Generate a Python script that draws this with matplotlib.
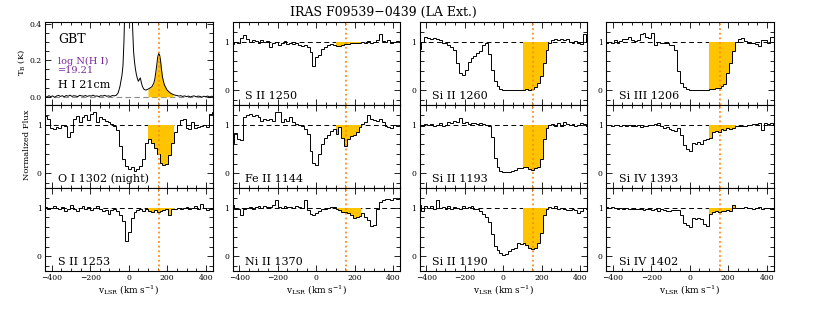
import numpy as np
import matplotlib
matplotlib.use('Agg')
import matplotlib.pyplot as plt
from matplotlib.ticker import MultipleLocator, FixedLocator

plt.rcParams['font.family'] = 'DejaVu Serif'
plt.rcParams['mathtext.fontset'] = 'dejavuserif'

# velocity bin edges of the UV spectra (km/s), 15 km/s bins
edges = np.arange(-440, 446, 15)

# GBT 21cm spectrum
gbt_v = [-435, -425, -415, -405, -395, -385, -375, -365, -355, -345,
         -335, -325, -315, -305, -295, -285, -275, -265, -255, -245,
         -235, -225, -215, -205, -195, -185, -175, -165, -155, -145,
         -135, -125, -115, -105, -95, -85, -75, -65,
         -55, -50, -45, -40, -35, -30, -25, -20, -15, -10, -5, 0, 5, 10,
         15, 20, 25, 30, 35, 40, 45, 50, 55, 60, 65, 70, 75, 80,
         90, 100, 110, 120, 130, 135, 140, 145, 150, 155, 160, 165, 170,
         175, 180, 185, 190,
         200, 210, 220, 230, 240, 250, 260, 270, 280, 290, 300, 310, 320,
         330, 340, 350, 360, 370, 380, 390, 400, 410, 420, 430, 435]
gbt_t = [0.004, -0.002, 0.006, 0.001, 0.005, -0.003, 0.004, 0.008, 0.002, 0.006,
         0.000, 0.007, 0.003, 0.009, 0.002, 0.006, 0.004, 0.001, 0.008, 0.005,
         0.003, 0.007, 0.002, 0.006, 0.004, 0.009, 0.003, 0.005, 0.001, 0.006,
         0.004, 0.008, 0.003, 0.005, 0.002, 0.007, 0.005, 0.008,
         0.022, 0.04, 0.06, 0.09, 0.12, 0.17, 0.30, 0.50, 0.80, 1.10, 1.30, 1.35, 1.25, 0.95,
         0.60, 0.38, 0.25, 0.19, 0.15, 0.12, 0.10, 0.085, 0.095, 0.104, 0.08, 0.06, 0.048, 0.04,
         0.037, 0.042, 0.048, 0.055, 0.075, 0.095, 0.13, 0.17, 0.215, 0.238, 0.23, 0.20, 0.15,
         0.11, 0.085, 0.066, 0.055,
         0.036, 0.026, 0.018, 0.013, 0.009, 0.007, 0.004, 0.006, 0.002, 0.005, 0.001, 0.004, -0.001,
         0.003, 0.005, 0.000, 0.004, 0.002, -0.002, 0.003, 0.001, 0.004, -0.001, 0.003, 0.002]

# normalized flux per bin
s2_1250 = [0.95, 1.0, 0.98, 1.08, 1.13, 1.05, 1.0, 1.03, 1.01, 0.98,
           1.03, 1.0, 1.02, 0.88, 0.98, 1.0, 0.92, 0.97, 1.02, 0.95,
           0.98, 0.94, 0.96, 0.93, 0.90, 0.92, 0.88, 0.78, 0.49, 0.68,
           0.72, 0.85, 0.88, 0.92, 0.95, 0.93, 0.90, 0.91, 0.93, 0.94,
           0.95, 0.96, 0.97, 0.98, 0.97, 1.0, 0.98, 1.02, 0.97, 1.0,
           1.03, 1.15, 1.02, 1.0, 1.03, 0.98, 1.0, 1.02, 0.99]
si2_1260 = [0.85, 1.0, 1.1, 1.08, 1.05, 1.07, 1.05, 1.04, 0.98, 0.96,
            0.92, 0.88, 0.83, 0.55, 0.35, 0.32, 0.42, 0.58, 0.66, 0.70,
            0.76, 0.80, 0.93, 0.97, 0.75, 0.42, 0.20, 0.09, 0.03, 0.01,
            0.0, 0.0, 0.01, 0.0, 0.01, 0.0, 0.01, 0.02, 0.01, 0.02,
            0.06, 0.15, 0.30, 0.55, 0.82, 0.97, 1.03, 1.05, 1.04, 1.06,
            1.03, 1.05, 1.0, 0.98, 1.02, 0.97, 0.95, 1.15, 1.0]
si3_1206 = [0.98, 1.0, 0.97, 1.03, 0.97, 1.02, 1.06, 1.05, 1.1, 1.04,
            1.02, 1.03, 1.15, 1.17, 1.1, 1.08, 1.17, 0.93, 1.0, 0.97,
            0.98, 0.96, 0.93, 0.92, 0.82, 0.40, 0.15, 0.07, 0.02, 0.0,
            0.0, 0.01, 0.0, 0.0, 0.01, 0.01, 0.02, 0.03, 0.04, 0.05,
            0.08, 0.13, 0.35, 0.55, 0.80, 1.0, 1.06, 1.07, 1.02, 0.97,
            0.96, 0.97, 0.95, 0.90, 1.03, 1.04, 0.97, 1.1, 1.1]
o1_1302 = [1.18, 1.12, 0.92, 0.90, 0.95, 0.93, 1.0, 0.98, 0.75, 0.85,
           1.12, 1.18, 1.05, 1.15, 1.20, 1.10, 1.22, 1.25, 1.05, 1.15,
           1.12, 1.08, 1.05, 1.02, 0.98, 0.88, 0.55, 0.30, 0.15, 0.08,
           0.12, 0.05, 0.08, 0.15, 0.30, 0.62, 0.70, 0.62, 0.52, 0.40,
           0.22, 0.18, 0.20, 0.38, 0.62, 0.85, 1.0, 1.1, 1.12, 0.92,
           0.90, 1.05, 0.92, 0.95, 0.98, 1.0, 0.95, 1.22, 1.25]
fe2_1144 = [0.62, 0.82, 0.70, 0.68, 1.15, 1.20, 1.22, 1.18, 1.20, 1.15,
            1.08, 1.12, 1.10, 1.12, 1.08, 1.26, 1.25, 1.05, 1.12, 1.08,
            1.15, 1.05, 1.02, 1.0, 0.96, 0.90, 0.80, 0.45, 0.22, 0.17,
            0.40, 0.60, 0.72, 0.78, 0.86, 0.90, 0.80, 0.95, 0.72, 0.57,
            0.70, 0.76, 0.78, 0.85, 0.95, 1.02, 1.05, 1.20, 1.12, 1.10,
            1.08, 1.12, 1.05, 0.98, 0.95, 0.92, 1.0, 0.98, 1.0]
si2_1193 = [1.0, 0.98, 1.01, 0.99, 1.02, 0.97, 1.0, 1.03, 0.98, 1.0,
            1.05, 1.04, 1.07, 1.06, 1.14, 1.04, 1.05, 1.02, 1.04, 1.03,
            1.02, 1.04, 1.01, 1.0, 0.97, 0.75, 0.32, 0.12, 0.05, 0.03,
            0.02, 0.02, 0.04, 0.06, 0.10, 0.11, 0.14, 0.12, 0.08, 0.06,
            0.10, 0.13, 0.30, 0.70, 0.92, 1.0, 1.02, 0.98, 1.04, 0.98,
            1.06, 1.01, 0.99, 1.02, 0.97, 1.0, 1.03, 1.01, 0.98]
si4_1393 = [1.0, 0.99, 0.98, 1.0, 0.99, 0.97, 1.0, 0.98, 0.99, 0.97,
            0.96, 0.99, 0.94, 0.97, 0.98, 1.0, 0.99, 1.02, 1.03, 0.97,
            0.93, 0.94, 0.90, 0.88, 0.87, 0.92, 0.78, 0.58, 0.50, 0.46,
            0.62, 0.60, 0.64, 0.61, 0.68, 0.71, 0.72, 0.84, 0.87, 0.85,
            0.90, 0.88, 0.92, 0.91, 0.93, 0.96, 0.97, 0.98, 0.97, 0.99,
            1.0, 1.02, 1.01, 1.03, 0.88, 1.03, 1.02, 1.04, 1.0]
s2_1253 = [1.02, 0.98, 1.0, 1.03, 1.0, 0.97, 1.02, 0.92, 0.98, 1.05,
           0.96, 0.92, 1.0, 1.03, 0.98, 1.02, 0.94, 1.0, 1.04, 0.97,
           0.92, 0.95, 0.86, 0.95, 0.97, 0.93, 0.85, 0.72, 0.32, 0.50,
           0.78, 0.90, 0.95, 0.97, 0.93, 0.98, 0.92, 0.90, 0.94, 0.90,
           0.93, 0.95, 0.96, 0.85, 0.96, 0.98, 1.0, 0.97, 1.0, 1.02,
           0.98, 1.0, 1.04, 0.97, 1.08, 1.0, 0.95, 0.98, 0.96]
ni2_1370 = [1.05, 0.98, 0.97, 0.85, 0.98, 1.0, 1.02, 0.98, 1.02, 1.03,
            1.0, 1.04, 1.01, 1.02, 1.05, 1.16, 1.02, 1.0, 1.03, 1.01,
            1.02, 1.0, 1.03, 1.02, 1.0, 1.16, 0.95, 0.86, 0.85, 0.88,
            0.92, 0.97, 0.98, 0.99, 1.02, 1.01, 0.97, 0.94, 0.91, 0.90,
            0.88, 0.84, 0.78, 0.80, 0.82, 0.88, 0.80, 0.75, 0.62, 0.65,
            0.98, 1.12, 1.15, 1.18, 1.18, 1.16, 1.19, 1.18, 1.2]
si2_1190 = [1.05, 0.92, 1.03, 1.0, 1.04, 0.98, 1.16, 1.0, 1.02, 0.97,
            1.03, 0.98, 1.02, 1.0, 0.96, 1.03, 0.99, 1.01, 1.04, 0.98,
            0.96, 0.92, 0.86, 0.80, 0.70, 0.45, 0.22, 0.12, 0.07, 0.03,
            0.05, 0.10, 0.15, 0.18, 0.27, 0.25, 0.27, 0.24, 0.18, 0.16,
            0.18, 0.27, 0.48, 0.85, 0.98, 1.02, 1.0, 1.03, 0.98, 1.0,
            0.96, 0.95, 0.94, 0.96, 0.95, 0.88, 0.92, 1.0, 0.98]
si4_1402 = [1.02, 1.0, 1.01, 0.99, 0.98, 1.0, 0.97, 0.99, 0.96, 0.97,
            0.98, 0.96, 0.97, 0.94, 0.98, 0.96, 0.95, 0.97, 0.93, 0.96,
            0.94, 0.93, 0.92, 0.95, 0.94, 0.95, 0.85, 0.68, 0.65, 0.61,
            0.78, 0.77, 0.79, 0.76, 0.66, 0.63, 0.86, 0.90, 0.92, 0.91,
            0.93, 0.92, 0.94, 0.93, 1.05, 1.0, 0.99, 1.0, 1.01, 0.99,
            1.0, 0.98, 0.99, 1.01, 0.98, 1.0, 0.99, 0.98, 0.97]

panels = [[None, ('S II 1250', s2_1250), ('Si II 1260', si2_1260), ('Si III 1206', si3_1206)],
          [('O I 1302 (night)', o1_1302), ('Fe II 1144', fe2_1144), ('Si II 1193', si2_1193), ('Si IV 1393', si4_1393)],
          [('S II 1253', s2_1253), ('Ni II 1370', ni2_1370), ('Si II 1190', si2_1190), ('Si IV 1402', si4_1402)]]

v_hvc = 155          # dotted line
v_lo, v_hi = 100, 235  # integration window
gold = '#FFC400'
dotc = '#FF8C1A'

W, H = 830.0, 312.0
lefts = [45, 232.5, 419.5, 606]
tops = [22, 105, 188]
pw, ph = 167.5, 83

fig = plt.figure(figsize=(8.3, 3.12), dpi=100)


def style(ax, bottom):
    ax.set_xlim(-435, 435)
    ax.xaxis.set_major_locator(MultipleLocator(200))
    ax.xaxis.set_minor_locator(MultipleLocator(50))
    ax.tick_params(which='both', direction='in', top=True, right=True,
                   labelsize=5.5, width=0.6, pad=2.5)
    ax.tick_params(which='major', length=4)
    ax.tick_params(which='minor', length=2.2)
    ax.tick_params(axis='y', which='minor', length=3.2)
    if not bottom:
        ax.tick_params(labelbottom=False)
    else:
        ax.set_xlabel(r'v$_{\rm LSR}$ (km s$^{-1}$)', fontsize=6.5, labelpad=1)
    for s in ax.spines.values():
        s.set_linewidth(0.8)


for r in range(3):
    for c in range(4):
        ax = fig.add_axes([lefts[c] / W, 1 - (tops[r] + ph) / H, pw / W, ph / H])
        style(ax, r == 2)
        if r == 0 and c == 0:
            v = np.array(gbt_v)
            t = np.array(gbt_t)
            m = (v >= v_lo) & (v <= v_hi)
            ax.axhline(0, color='0.55', lw=0.8, dashes=(5, 3), zorder=1)
            ax.fill_between(v[m], t[m], 0, color=gold, lw=0, zorder=2)
            ax.plot(v, t, color='k', lw=0.7, zorder=3)
            ax.set_ylim(-0.045, 0.41)
            ax.yaxis.set_major_locator(FixedLocator([0.0, 0.2, 0.4]))
            ax.yaxis.set_minor_locator(MultipleLocator(0.05))
            ax.set_yticklabels(['0.0', '0.2', '0.4'])
            ax.text(0.08, 0.75, 'GBT', transform=ax.transAxes, fontsize=9)
            ax.text(0.08, 0.50, 'log N(H I)', transform=ax.transAxes, fontsize=7, color='#7A2A9A')
            ax.text(0.08, 0.385, '=19.21', transform=ax.transAxes, fontsize=7, color='#7A2A9A')
            ax.text(0.08, 0.21, 'H I 21cm', transform=ax.transAxes, fontsize=8)
        else:
            name, f = panels[r][c]
            f = np.array(f)
            ax.axhline(1, color='k', lw=0.7, dashes=(5, 3.5), zorder=1)
            i0 = np.searchsorted(edges, v_lo)
            i1 = np.searchsorted(edges, v_hi)
            ax.fill_between(edges[i0:i1 + 1], np.r_[f[i0:i1], f[i1 - 1]], 1,
                            step='post', color=gold, lw=0, zorder=2)
            ax.stairs(f, edges, color='k', lw=0.7, zorder=3)
            ax.set_ylim(-0.3, 1.4)
            ax.yaxis.set_major_locator(FixedLocator([0, 1]))
            ax.yaxis.set_minor_locator(FixedLocator([-0.2, 0.2, 0.4, 0.6, 0.8, 1.2]))
            ax.set_yticklabels(['0', '1'])
            ax.text(0.075, 0.07, name, transform=ax.transAxes, fontsize=8)
        ax.axvline(v_hvc, color=dotc, lw=1.3, ls=(0, (1, 1.6)), zorder=4)

fig.text(383 / W, 1 - 12.5 / H, 'IRAS F09539\u22120439 (LA Ext.)', fontsize=9,
         ha='center', va='center')
fig.text(27 / W, 1 - 145 / H, 'Normalized Flux', rotation=90, fontsize=6,
         ha='center', va='center')
fig.text(22 / W, 1 - 63 / H, r'T$_{\rm B}$ (K)', rotation=90, fontsize=6,
         ha='center', va='center')

fig.savefig('out.png', dpi=100)
